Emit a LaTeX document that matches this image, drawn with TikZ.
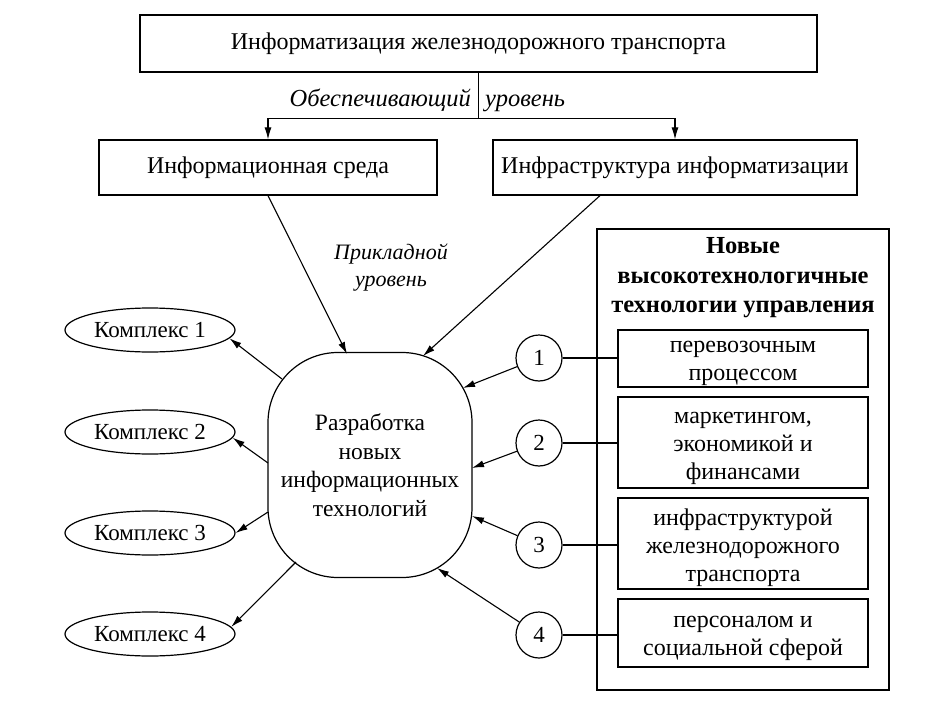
\documentclass[tikz,border=0pt]{standalone}
\usepackage{fontspec}
\setmainfont{Liberation Serif}
\usetikzlibrary{arrows.meta,calc,shapes.geometric}
\begin{document}
\begin{tikzpicture}[x=1pt,y=-1pt,
  every node/.style={font=\fontsize{24}{28}\selectfont, inner sep=0pt},
  box/.style={draw, line width=1.2pt, align=center},
  txt/.style={align=center},
  ell/.style={draw, ellipse, line width=1.2pt, minimum width=170pt, minimum height=44pt, font=\fontsize{23}{28}\selectfont},
  num/.style={draw, circle, line width=1.2pt, minimum size=46pt, font=\fontsize{23}{28}\selectfont},
  arr/.style={line width=1.1pt, -{Latex[length=12pt,width=7pt]}},
  ln/.style={line width=1.1pt},
  lab/.style={font=\itshape\fontsize{24.5}{28}\selectfont}
]
\useasboundingbox (0,0) rectangle (930,704);

% top level
\node[box, minimum width=677pt, minimum height=57pt] (t) at (478.5,43.5) {Информатизация железнодорожного транспорта};
\node[box, minimum width=338pt, minimum height=55pt] (b2) at (268,167.5) {Информационная среда};
\node[box, minimum width=364pt, minimum height=55pt] (b3) at (675,167.5) {Инфраструктура информатизации};

\node[lab, anchor=base east] (l1) at (471,106) {Обеспечивающий};
\node[lab, anchor=base west] (l2) at (485,106) {уровень};
\node[lab, font=\itshape\fontsize{22}{27}\selectfont, align=center] (l3) at (391,268) {Прикладной\\уровень};

% centre node
\node[draw, line width=1.2pt, rounded corners=70pt, minimum width=204pt, minimum height=225pt, align=center, font=\fontsize{23.5}{28.5}\selectfont] (c) at (370,465) {Разработка\\новых\\информационных\\технологий};

% complexes
\node[ell] (k1) at (150,330) {Комплекс 1};
\node[ell] (k2) at (150,432) {Комплекс 2};
\node[ell] (k3) at (150,533) {Комплекс 3};
\node[ell] (k4) at (150,634) {Комплекс 4};

% right panel
\node[draw, line width=1.2pt, minimum width=292pt, minimum height=461pt] (p) at (743,459.5) {};
\node[font=\bfseries\fontsize{24.5}{29.5}\selectfont, align=center] (pt) at (743,278) {Новые\\высокотехнологичные\\технологии управления};

\node[box, minimum width=250pt, minimum height=57pt] (r1) at (743,358.5) {};
\node[box, minimum width=250pt, minimum height=91pt] (r2) at (743,442.5) {};
\node[box, minimum width=250pt, minimum height=91pt] (r3) at (743,543.5) {};
\node[box, minimum width=250pt, minimum height=68pt] (r4) at (743,633) {};
\node[txt, yshift=-5pt] (r1t) at (r1.center) {перевозочным\\процессом};
\node[txt, yshift=-6pt] (r2t) at (r2.center) {маркетингом,\\экономикой и\\финансами};
\node[txt, yshift=-4pt] (r3t) at (r3.center) {инфраструктурой\\железнодорожного\\транспорта};
\node[txt, yshift=-5pt] (r4t) at (r4.center) {персоналом и\\социальной сферой};

\node[num] (n1) at (539,358) {1};
\node[num] (n2) at (539,443) {2};
\node[num] (n3) at (539,545) {3};
\node[num] (n4) at (539,635) {4};

% connector points on the rounded border of the centre node
\coordinate (e1) at (347,354);
\coordinate (e2) at (423,356);
\coordinate (e3) at (463,388);
\coordinate (e4) at (472,468);
\coordinate (e5) at (472,516);
\coordinate (e6) at (437,568);
\coordinate (s1) at (282,379);
\coordinate (s2) at (268,463);
\coordinate (s3) at (268,512);
\coordinate (s4) at (296,562);
\coordinate (j) at ($(t.south)+(0,46)$);

% connectors
\draw[ln] (t.south) -- (j);
\draw[arr] (j) -| (b2.north);
\draw[arr] (j) -| (b3.north);
\draw[arr] (b2.south) -- (e1);
\draw[arr] ([xshift=-75pt]b3.south) -- (e2);

\draw[arr] (s1) -- (k1.-6);
\draw[arr] (s2) -- (k2.-4);
\draw[arr] (s3) -- (k3.east);
\draw[arr] (s4) -- (k4.5);

\draw[arr] (n1) -- (e3);
\draw[arr] (n2) -- (e4);
\draw[arr] (n3) -- (e5);
\draw[arr] (n4) -- (e6);

\draw[ln] (n1.east) -- (n1.east -| r1.west);
\draw[ln] (n2.east) -- (n2.east -| r2.west);
\draw[ln] (n3.east) -- (n3.east -| r3.west);
\draw[ln] (n4.east) -- (n4.east -| r4.west);
\end{tikzpicture}
\end{document}
